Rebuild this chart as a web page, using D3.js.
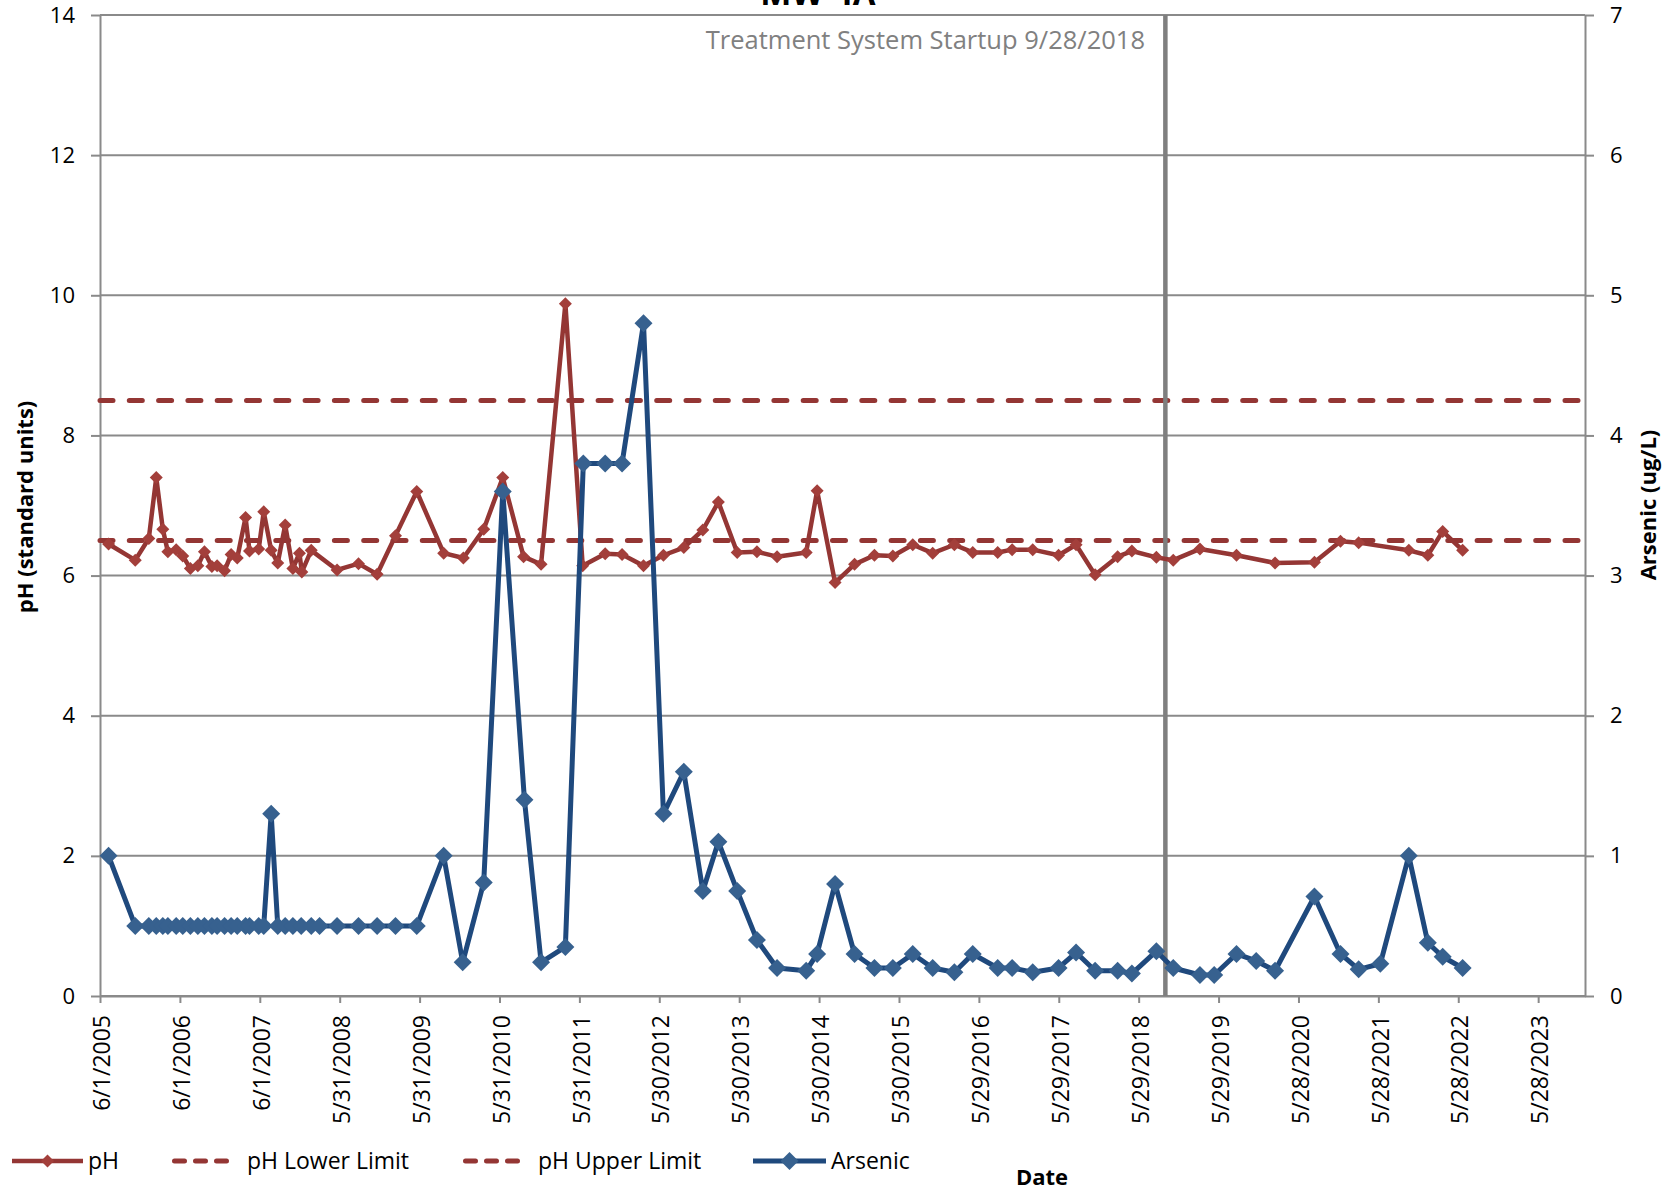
<!DOCTYPE html>
<html>
<head>
<meta charset="utf-8">
<script src="https://cdn.jsdelivr.net/npm/d3@7"></script>
<style>
  html, body { margin: 0; padding: 0; background: #ffffff; }
  svg text { font-family: "Open Sans", "Noto Sans", sans-serif; }
</style>
</head>
<body>
<svg id="chart" width="1674" height="1192"></svg>
<script>
// ---- Data: MW-4A monitoring well, pH and arsenic ----
const phDates = [
  "2005-07-10","2005-11-09","2006-01-10","2006-02-13","2006-03-15","2006-04-07","2006-05-15","2006-06-14",
  "2006-07-19","2006-08-22","2006-09-21","2006-10-25","2006-11-18","2006-12-22","2007-01-21","2007-02-18",
  "2007-03-28","2007-04-15","2007-05-27","2007-06-19","2007-07-23","2007-08-22","2007-09-25","2007-10-30",
  "2007-11-29","2007-12-10","2008-01-22","2008-05-19","2008-08-25","2008-11-18","2009-02-10","2009-05-18",
  "2009-09-18","2009-12-17","2010-03-20","2010-06-15","2010-09-18","2010-12-07","2011-03-28","2011-06-15",
  "2011-09-26","2011-12-12","2012-03-19","2012-06-18","2012-09-19","2012-12-15","2013-02-24","2013-05-21",
  "2013-08-19","2013-11-19","2014-04-01","2014-05-21","2014-08-11","2014-11-08","2015-02-07","2015-05-02",
  "2015-08-01","2015-10-31","2016-02-07","2016-05-01","2016-08-23","2016-10-28","2017-01-30","2017-05-28",
  "2017-08-16","2017-11-11","2018-02-22","2018-04-28","2018-08-18","2018-11-03","2019-03-05","2019-08-19",
  "2020-02-11","2020-08-09","2020-12-06","2021-02-27","2021-10-14","2022-01-09","2022-03-18","2022-06-17"
];
const phValues = [
  6.45, 6.22, 6.53, 7.40, 6.66, 6.34, 6.37, 6.28,
  6.10, 6.14, 6.34, 6.13, 6.14, 6.07, 6.30, 6.25,
  6.83, 6.35, 6.38, 6.91, 6.36, 6.18, 6.72, 6.10,
  6.32, 6.05, 6.36, 6.08, 6.17, 6.02, 6.57, 7.20,
  6.32, 6.25, 6.66, 7.40, 6.27, 6.16, 9.88, 6.14,
  6.31, 6.30, 6.14, 6.29, 6.40, 6.65, 7.05, 6.33,
  6.34, 6.27, 6.33, 7.21, 5.90, 6.16, 6.29, 6.28,
  6.44, 6.32, 6.44, 6.33, 6.33, 6.37, 6.37, 6.29,
  6.44, 6.01, 6.27, 6.35, 6.26, 6.22, 6.38, 6.29,
  6.18, 6.19, 6.49, 6.47, 6.36, 6.29, 6.63, 6.36
];

const arsenicDates = [
  "2005-07-10","2005-11-09","2006-01-10","2006-02-13","2006-03-15","2006-04-07","2006-05-15","2006-06-14",
  "2006-07-19","2006-08-22","2006-09-21","2006-10-25","2006-11-18","2006-12-22","2007-01-21","2007-02-18",
  "2007-03-28","2007-04-15","2007-05-27","2007-06-19","2007-07-23","2007-08-22","2007-09-25","2007-10-30",
  "2007-12-07","2008-01-22","2008-02-29","2008-05-19","2008-08-25","2008-11-18","2009-02-10","2009-05-18",
  "2009-09-18","2009-12-14","2010-03-20","2010-06-15","2010-09-22","2010-12-07","2011-03-28","2011-06-18",
  "2011-09-26","2011-12-12","2012-03-19","2012-06-18","2012-09-19","2012-12-15","2013-02-24","2013-05-21",
  "2013-08-19","2013-11-19","2014-04-01","2014-05-21","2014-08-11","2014-11-08","2015-02-07","2015-05-02",
  "2015-08-01","2015-10-31","2016-02-07","2016-05-01","2016-08-23","2016-10-28","2017-01-30","2017-05-28",
  "2017-08-16","2017-11-11","2018-02-22","2018-04-28","2018-08-18","2018-11-03","2019-03-05","2019-05-09",
  "2019-08-19","2019-11-17","2020-02-11","2020-08-09","2020-12-06","2021-02-27","2021-06-06","2021-10-14",
  "2022-01-09","2022-03-18","2022-06-17"
];
const arsenicValues = [
  1.0, 0.5, 0.5, 0.5, 0.5, 0.5, 0.5, 0.5,
  0.5, 0.5, 0.5, 0.5, 0.5, 0.5, 0.5, 0.5,
  0.5, 0.5, 0.5, 0.5, 1.3, 0.5, 0.5, 0.5,
  0.5, 0.5, 0.5, 0.5, 0.5, 0.5, 0.5, 0.5,
  1.0, 0.24, 0.81, 3.6, 1.4, 0.24, 0.35, 3.8,
  3.8, 3.8, 4.8, 1.3, 1.6, 0.75, 1.1, 0.75,
  0.4, 0.2, 0.18, 0.3, 0.8, 0.3, 0.2, 0.2,
  0.3, 0.2, 0.17, 0.3, 0.2, 0.2, 0.17, 0.2,
  0.31, 0.18, 0.18, 0.16, 0.32, 0.2, 0.15, 0.15,
  0.3, 0.25, 0.18, 0.71, 0.3, 0.19, 0.23, 1.0,
  0.38, 0.28, 0.2
];

const phLowerLimit = 6.5;
const phUpperLimit = 8.5;
const startupDate = "2018-09-28";
const axisEndDate = "2023-12-28";

const phTicks = [0, 2, 4, 6, 8, 10, 12, 14];
const arsenicTicks = [0, 1, 2, 3, 4, 5, 6, 7];
const dateTickLabels = [
  "6/1/2005","6/1/2006","6/1/2007","5/31/2008","5/31/2009","5/31/2010","5/31/2011",
  "5/30/2012","5/30/2013","5/30/2014","5/30/2015","5/29/2016","5/29/2017","5/29/2018",
  "5/29/2019","5/28/2020","5/28/2021","5/28/2022","5/28/2023"
];
const seriesNames = ["pH", "pH Lower Limit", "pH Upper Limit", "Arsenic"];

// ---- Styles ----
const RED_LINE = "#943634", RED_MARK = "#A33F3B";
const BLUE_LINE = "#1F497D", BLUE_MARK = "#37618F";
const GRID = "#8a8a8a";
const FS = 22;

// ---- Scales ----
const parseISO = d3.utcParse("%Y-%m-%d");
const parseUS = d3.utcParse("%m/%d/%Y");
const plot = { left: 100, right: 1585, top: 15, bottom: 996 };

const x = d3.scaleUtc()
  .domain([parseUS(dateTickLabels[0]), parseISO(axisEndDate)])
  .range([plot.left, plot.right]);
const yPH = d3.scaleLinear().domain([0, 14]).range([plot.bottom, plot.top]);
const yAs = d3.scaleLinear().domain([0, 7]).range([plot.bottom, plot.top]);

const phData = phDates.map((d, i) => ({ date: parseISO(d), v: phValues[i] }));
const asData = arsenicDates.map((d, i) => ({ date: parseISO(d), v: arsenicValues[i] }));

const svg = d3.select("#chart");
const diamond = r => `M0,${-r}L${r},0L0,${r}L${-r},0Z`;

// ---- Gridlines ----
svg.append("g").selectAll("line").data(phTicks).join("line")
  .attr("x1", plot.left).attr("x2", plot.right)
  .attr("y1", d => yPH(d)).attr("y2", d => yPH(d))
  .attr("stroke", GRID).attr("stroke-width", 2);

// ---- Axes ----
function styleAxis(g) {
  g.attr("font-family", null).attr("font-size", null);
  g.selectAll("path.domain").attr("stroke", GRID).attr("stroke-width", 2);
  g.selectAll(".tick line").attr("stroke", GRID).attr("stroke-width", 2);
  g.selectAll(".tick text").attr("fill", "#000").style("font-size", FS + "px");
}

svg.append("g")
  .attr("transform", `translate(${plot.left},0)`)
  .call(d3.axisLeft(yPH).tickValues(phTicks).tickFormat(d3.format("d"))
    .tickSize(9).tickSizeOuter(0).tickPadding(16))
  .call(styleAxis);

svg.append("g")
  .attr("transform", `translate(${plot.right},0)`)
  .call(d3.axisRight(yAs).tickValues(arsenicTicks).tickFormat(d3.format("d"))
    .tickSize(9).tickSizeOuter(0).tickPadding(16))
  .call(styleAxis);

const xAxis = svg.append("g")
  .attr("transform", `translate(0,${plot.bottom})`)
  .call(d3.axisBottom(x)
    .tickValues(dateTickLabels.map(parseUS))
    .tickFormat((d, i) => dateTickLabels[i])
    .tickSize(7).tickSizeOuter(0))
  .call(styleAxis);
xAxis.selectAll(".tick text")
  .style("font-size", "23px")
  .attr("transform", "rotate(-90)")
  .attr("text-anchor", "end")
  .attr("x", -19).attr("y", 0).attr("dy", "0.42em");

// ---- Limit lines ----
[phLowerLimit, phUpperLimit].forEach(v => {
  svg.append("line")
    .attr("x1", plot.left).attr("x2", plot.right)
    .attr("y1", yPH(v)).attr("y2", yPH(v))
    .attr("stroke", RED_LINE).attr("stroke-width", 5)
    .attr("stroke-linecap", "round")
    .attr("stroke-dasharray", "13 16.3");
});

// ---- Treatment startup marker ----
const sx = x(parseISO(startupDate));
svg.append("line")
  .attr("x1", sx).attr("x2", sx).attr("y1", plot.top).attr("y2", plot.bottom)
  .attr("stroke", "#7f7f7f").attr("stroke-width", 4.5);
svg.append("text")
  .attr("x", 1145).attr("y", 49)
  .attr("text-anchor", "end")
  .attr("fill", "#808080")
  .style("font-size", "25.5px")
  .text("Treatment System Startup 9/28/2018");

// ---- pH series ----
svg.append("path").datum(phData)
  .attr("fill", "none").attr("stroke", RED_LINE).attr("stroke-width", 4.5)
  .attr("stroke-linejoin", "round")
  .attr("d", d3.line().x(d => x(d.date)).y(d => yPH(d.v)));
svg.append("g").selectAll("path").data(phData).join("path")
  .attr("transform", d => `translate(${x(d.date)},${yPH(d.v)})`)
  .attr("d", diamond(6.5)).attr("fill", RED_MARK);

// ---- Arsenic series (secondary axis) ----
svg.append("path").datum(asData)
  .attr("fill", "none").attr("stroke", BLUE_LINE).attr("stroke-width", 5)
  .attr("stroke-linejoin", "round")
  .attr("d", d3.line().x(d => x(d.date)).y(d => yAs(d.v)));
svg.append("g").selectAll("path").data(asData).join("path")
  .attr("transform", d => `translate(${x(d.date)},${yAs(d.v)})`)
  .attr("d", diamond(9)).attr("fill", BLUE_MARK);

// ---- Titles ----
svg.append("text")
  .attr("x", 818).attr("y", 5)
  .attr("text-anchor", "middle").attr("font-weight", "bold")
  .style("font-size", "33px")
  .text("MW-4A");

svg.append("text")
  .attr("transform", "translate(33,507) rotate(-90)")
  .attr("text-anchor", "middle").attr("font-weight", "bold")
  .style("font-size", FS + "px")
  .text("pH (standard units)");

svg.append("text")
  .attr("transform", "translate(1656,505) rotate(-90)")
  .attr("text-anchor", "middle").attr("font-weight", "bold")
  .style("font-size", FS + "px")
  .text("Arsenic (ug/L)");

svg.append("text")
  .attr("x", 1042).attr("y", 1185)
  .attr("text-anchor", "middle").attr("font-weight", "bold")
  .style("font-size", FS + "px")
  .text("Date");

// ---- Legend ----
const legendY = 1161;
const legendX = [12, 172, 463, 753];
const legend = svg.append("g");
seriesNames.forEach((name, i) => {
  const g = legend.append("g").attr("transform", `translate(${legendX[i]},${legendY})`);
  let w;
  if (i === 0 || i === 3) {
    w = i === 0 ? 71 : 73;
    g.append("line").attr("x1", 0).attr("x2", w).attr("y1", 0).attr("y2", 0)
      .attr("stroke", i === 0 ? RED_LINE : BLUE_LINE).attr("stroke-width", i === 0 ? 4.5 : 5);
    g.append("path").attr("transform", `translate(${w / 2},0)`)
      .attr("d", diamond(i === 0 ? 6.5 : 9)).attr("fill", i === 0 ? RED_MARK : BLUE_MARK);
  } else {
    w = 63;
    g.append("line").attr("x1", 2.5).attr("x2", w - 2.5).attr("y1", 0).attr("y2", 0)
      .attr("stroke", RED_LINE).attr("stroke-width", 5)
      .attr("stroke-linecap", "round").attr("stroke-dasharray", "10 11");
  }
  g.append("text").attr("x", w + (i === 0 || i === 3 ? 5 : 12)).attr("y", 0).attr("dy", "0.36em")
    .style("font-size", "23px").attr("fill", "#000").text(name);
});
</script>
</body>
</html>
